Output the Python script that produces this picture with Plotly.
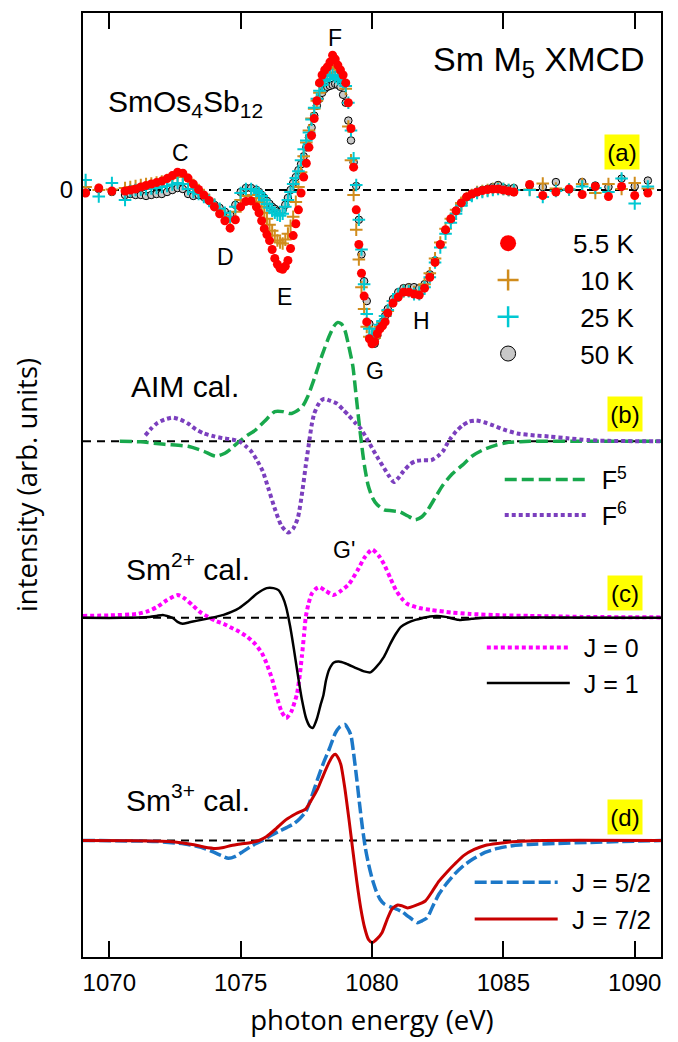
import plotly.graph_objects as go

# ---------------- data ----------------
# (a) experimental Sm M5 XMCD, SmOs4Sb12
E_exp = [1069.1, 1069.6, 1070.1,
         1070.6, 1070.8, 1071.0, 1071.2, 1071.4, 1071.6, 1071.8, 1072.0, 1072.2, 1072.4, 1072.6, 1072.8,
         1073.0, 1073.2, 1073.4, 1073.6, 1073.8, 1074.0, 1074.2, 1074.4, 1074.6, 1074.8, 1075.0, 1075.2, 1075.4,
         1075.6, 1075.7, 1075.8, 1075.9, 1076.0, 1076.1, 1076.2, 1076.3, 1076.4, 1076.5,
         1076.6, 1076.7, 1076.8, 1076.9, 1077.0, 1077.1, 1077.2, 1077.3, 1077.4, 1077.5,
         1077.6, 1077.7, 1077.8, 1077.9, 1078.0, 1078.1, 1078.2, 1078.3, 1078.4, 1078.5,
         1078.6, 1078.7, 1078.8, 1078.9, 1079.0, 1079.1, 1079.2, 1079.3, 1079.4, 1079.5,
         1079.6, 1079.7, 1079.8, 1079.9, 1080.0, 1080.1, 1080.2, 1080.3, 1080.4, 1080.5, 1080.6,
         1080.8, 1081.0, 1081.2, 1081.4, 1081.6, 1081.8, 1082.0, 1082.2, 1082.4, 1082.6, 1082.8, 1083.0,
         1083.2, 1083.4, 1083.6, 1083.8, 1084.0, 1084.2, 1084.4, 1084.6, 1084.8, 1085.0, 1085.2, 1085.4,
         1086.0, 1086.5, 1087.0, 1087.5, 1088.0, 1088.5, 1089.0, 1089.5, 1090.0, 1090.5]

I_5K = [-0.03, 0.02, -0.01,
        -0.01, 0.00, 0.01, 0.03, 0.045, 0.06, 0.075, 0.09, 0.115, 0.145, 0.18, 0.17,
        0.12, 0.06, 0.005, -0.05, -0.105, -0.17, -0.24, -0.31, -0.385, -0.30, -0.17, -0.115, -0.11,
        -0.17, -0.23, -0.31, -0.39, -0.45, -0.51, -0.60, -0.69, -0.75, -0.79,
        -0.80, -0.77, -0.71, -0.59, -0.46, -0.34, -0.20, -0.03, 0.13, 0.27,
        0.43, 0.55, 0.72, 0.90, 1.08, 1.16, 1.21, 1.24, 1.29, 1.36,
        1.32, 1.26, 1.21, 1.16, 1.08, 0.88, 0.62, 0.23, -0.20, -0.55,
        -0.84, -1.07, -1.33, -1.50, -1.55, -1.53, -1.45, -1.40, -1.37, -1.33, -1.24,
        -1.14, -1.08, -1.03, -1.03, -1.05, -1.06, -0.99, -0.88, -0.73, -0.55, -0.40, -0.29,
        -0.21, -0.13, -0.07, -0.04, -0.02, -0.005, 0.005, 0.01, 0.01, 0.0, -0.01, -0.02,
        0.055, -0.055, -0.02, 0.01, -0.045, 0.035, -0.065, 0.035, -0.055, -0.03]

I_10K = [0.03, 0.0, 0.005,
         0.02, 0.03, 0.04, 0.05, 0.06, 0.065, 0.075, 0.085, 0.10, 0.12, 0.14, 0.13,
         0.10, 0.05, 0.0, -0.05, -0.10, -0.15, -0.20, -0.26, -0.31, -0.22, -0.10, -0.06, -0.05,
         -0.08, -0.12, -0.17, -0.23, -0.29, -0.35, -0.41, -0.46, -0.51, -0.53,
         -0.54, -0.50, -0.44, -0.36, -0.27, -0.12, 0.03, 0.18, 0.34, 0.48,
         0.60, 0.72, 0.82, 0.90, 0.98, 1.06, 1.12, 1.18, 1.23, 1.25,
         1.22, 1.19, 1.15, 1.10, 1.02, 0.64, 0.30, -0.05, -0.40, -0.70,
         -0.98, -1.20, -1.38, -1.48, -1.50, -1.49, -1.42, -1.38, -1.33, -1.27, -1.22,
         -1.12, -1.06, -1.02, -1.01, -1.03, -1.02, -0.95, -0.84, -0.69, -0.53, -0.39, -0.29,
         -0.20, -0.13, -0.08, -0.05, -0.02, -0.01, 0.0, 0.01, 0.02, 0.01, 0.0, 0.0,
         0.005, 0.065, 0.015, 0.005, 0.06, -0.03, 0.06, 0.01, 0.07, 0.015]

I_25K = [0.10, -0.065, 0.07,
         -0.10, -0.01, 0.0, 0.005, 0.01, 0.015, 0.02, 0.03, 0.04, 0.055, 0.07, 0.06,
         0.01, -0.02, -0.04, -0.07, -0.11, -0.15, -0.19, -0.23, -0.27, -0.17, -0.03, 0.01, 0.01,
         -0.01, -0.03, -0.06, -0.10, -0.14, -0.18, -0.21, -0.23, -0.25, -0.26,
         -0.24, -0.17, -0.10, -0.02, 0.06, 0.12, 0.19, 0.30, 0.41, 0.50,
         0.58, 0.71, 0.83, 0.92, 1.00, 1.06, 1.10, 1.12, 1.15, 1.16,
         1.14, 1.12, 1.11, 1.09, 1.05, 0.88, 0.60, 0.32, 0.05, -0.30,
         -0.60, -0.95, -1.25, -1.40, -1.47, -1.46, -1.40, -1.36, -1.32, -1.27, -1.21,
         -1.12, -1.05, -1.02, -1.02, -1.05, -1.05, -0.98, -0.88, -0.73, -0.58, -0.44, -0.33,
         -0.24, -0.16, -0.10, -0.06, -0.03, -0.02, -0.01, 0.0, 0.01, 0.01, 0.0, 0.0,
         0.0, -0.07, -0.01, 0.005, 0.035, 0.02, -0.02, 0.115, -0.135, 0.035]

I_50K = [0.0, 0.01, -0.02,
         -0.05, -0.04, -0.05, -0.05, -0.06, -0.05, -0.04, -0.04, -0.02, 0.0, 0.02, 0.01,
         -0.04, -0.06, -0.05, -0.07, -0.11, -0.15, -0.18, -0.22, -0.25, -0.15, -0.02, 0.02, 0.02,
         0.0, -0.02, -0.05, -0.08, -0.11, -0.14, -0.17, -0.19, -0.21, -0.22,
         -0.20, -0.15, -0.08, 0.0, 0.07, 0.13, 0.20, 0.26, 0.34, 0.43,
         0.53, 0.63, 0.75, 0.85, 0.92, 0.98, 1.02, 1.04, 1.05, 1.06,
         1.07, 1.06, 1.04, 0.96, 0.88, 0.70, 0.50, 0.28, 0.04, -0.30,
         -0.65, -0.92, -1.12, -1.35, -1.50, -1.55, -1.47, -1.38, -1.33, -1.27, -1.20,
         -1.10, -1.03, -0.99, -0.98, -0.98, -0.99, -0.95, -0.85, -0.71, -0.55, -0.41, -0.30,
         -0.21, -0.13, -0.07, -0.04, -0.02, 0.0, 0.01, 0.03, 0.05, 0.02, 0.01, 0.02,
         0.045, 0.03, 0.08, 0.005, 0.08, 0.045, 0.03, 0.115, 0.035, 0.095]

# (b) AIM calculation
E_F5 = [1070.4, 1071.2, 1072.1, 1073.0, 1073.6, 1074.05, 1074.4, 1074.65, 1074.95, 1075.25, 1075.55,
        1075.9, 1076.3, 1076.6, 1076.9, 1077.15, 1077.35, 1077.55, 1077.8, 1078.1, 1078.37, 1078.55,
        1078.7, 1078.85, 1078.97, 1079.1, 1079.27, 1079.38, 1079.49, 1079.6, 1079.71, 1079.85, 1080.02,
        1080.2, 1080.46, 1080.75, 1081.05, 1081.35, 1081.65, 1081.9, 1082.1, 1082.4, 1082.7, 1083.05,
        1083.44, 1083.8, 1084.19, 1084.7, 1085.2, 1086.0, 1091.0]
I_F5 = [0.0, -0.005, -0.03, -0.05, -0.10, -0.15, -0.12, -0.07, 0.0, 0.06, 0.11,
        0.20, 0.30, 0.30, 0.28, 0.31, 0.35, 0.45, 0.63, 0.87, 1.06, 1.16,
        1.20, 1.18, 1.12, 0.98, 0.76, 0.50, 0.23, -0.02, -0.24, -0.44, -0.57,
        -0.64, -0.69, -0.70, -0.71, -0.75, -0.79, -0.76, -0.70, -0.57, -0.44, -0.33,
        -0.24, -0.15, -0.09, -0.04, -0.01, 0.0, 0.0]

E_F6 = [1071.37, 1071.6, 1071.8, 1072.1, 1072.4, 1072.7, 1073.0, 1073.3, 1073.6, 1074.0, 1074.35,
        1074.65, 1074.95, 1075.2, 1075.4, 1075.6, 1075.84, 1076.05, 1076.29, 1076.55, 1076.81, 1077.0,
        1077.18, 1077.35, 1077.48, 1077.6, 1077.7, 1077.8, 1077.93, 1078.05, 1078.19, 1078.4, 1078.67,
        1078.9, 1079.12, 1079.35, 1079.57, 1079.8, 1080.01, 1080.25, 1080.46, 1080.65, 1080.83, 1081.0,
        1081.2, 1081.45, 1081.65, 1081.95, 1082.25, 1082.5, 1082.7, 1082.85, 1082.99, 1083.2, 1083.44,
        1083.7, 1083.96, 1084.3, 1084.63, 1085.0, 1085.53, 1086.2, 1086.72, 1087.5, 1088.2, 1089.0, 1091.0]
I_F6 = [0.06, 0.13, 0.18, 0.22, 0.24, 0.22, 0.18, 0.12, 0.08, 0.05, 0.03,
        0.02, 0.0, -0.05, -0.10, -0.18, -0.30, -0.47, -0.67, -0.85, -0.92, -0.88,
        -0.77, -0.50, -0.24, -0.02, 0.16, 0.28, 0.36, 0.41, 0.43, 0.41, 0.38,
        0.32, 0.26, 0.19, 0.13, 0.03, -0.07, -0.18, -0.27, -0.35, -0.41, -0.37,
        -0.30, -0.23, -0.20, -0.19, -0.19, -0.15, -0.10, -0.03, 0.03, 0.10, 0.16,
        0.20, 0.21, 0.19, 0.16, 0.12, 0.08, 0.06, 0.05, 0.03, 0.013, 0.005, 0.0]

# (c) Sm2+ calculation
E_J0 = [1069.0, 1070.0, 1071.07, 1071.5, 1071.82, 1072.2, 1072.61, 1072.9, 1073.16, 1073.45, 1073.76,
        1074.05, 1074.35, 1074.65, 1074.95, 1075.25, 1075.54, 1075.8, 1075.99, 1076.2, 1076.36, 1076.55,
        1076.73, 1076.92, 1077.15, 1077.25, 1077.33, 1077.41, 1077.48, 1077.58, 1077.7, 1077.85, 1078.0,
        1078.25, 1078.53, 1078.8, 1079.12, 1079.45, 1079.72, 1080.01, 1080.25, 1080.46, 1080.7, 1080.91,
        1081.15, 1081.35, 1081.8, 1082.25, 1083.0, 1083.74, 1085.0, 1085.97, 1088.0, 1091.0]
I_J0 = [0.02, 0.025, 0.04, 0.07, 0.11, 0.18, 0.23, 0.19, 0.13, 0.06, 0.01,
        -0.03, -0.06, -0.10, -0.14, -0.19, -0.26, -0.35, -0.46, -0.62, -0.78, -0.94,
        -1.01, -0.95, -0.76, -0.58, -0.39, -0.18, 0.01, 0.14, 0.24, 0.29, 0.31,
        0.27, 0.23, 0.27, 0.34, 0.48, 0.61, 0.69, 0.63, 0.54, 0.40, 0.28,
        0.19, 0.14, 0.10, 0.08, 0.055, 0.04, 0.025, 0.02, 0.01, 0.005]

E_J1 = [1069.0, 1070.5, 1071.52, 1071.8, 1072.04, 1072.25, 1072.41, 1072.6, 1072.79, 1073.05, 1073.31,
        1073.7, 1074.05, 1074.35, 1074.65, 1074.95, 1075.25, 1075.6, 1075.99, 1076.25, 1076.44, 1076.6,
        1076.73, 1076.88, 1077.03, 1077.18, 1077.33, 1077.5, 1077.65, 1077.75, 1077.9, 1078.05, 1078.15,
        1078.25, 1078.37, 1078.55, 1078.74, 1079.0, 1079.42, 1079.7, 1079.94, 1080.15, 1080.46, 1080.7,
        1080.91, 1081.1, 1081.35, 1081.65, 1081.95, 1082.2, 1082.47, 1082.8, 1083.29, 1083.8, 1084.3, 1091.0]
I_J1 = [0.0, 0.0, 0.01, 0.02, 0.03, 0.015, 0.0, -0.04, -0.06, -0.045, -0.03,
        -0.01, 0.01, 0.03, 0.06, 0.10, 0.16, 0.24, 0.30, 0.30, 0.28, 0.21,
        0.11, -0.08, -0.32, -0.58, -0.82, -1.02, -1.10, -1.11, -1.02, -0.87, -0.78,
        -0.63, -0.52, -0.45, -0.44, -0.46, -0.51, -0.54, -0.55, -0.50, -0.39, -0.26,
        -0.16, -0.09, -0.05, -0.02, 0.0, 0.015, 0.02, 0.01, -0.02, -0.01, 0.0, 0.0]

# (d) Sm3+ calculation
E_J52 = [1069.0, 1071.0, 1071.8, 1072.5, 1073.0, 1073.5, 1073.9, 1074.25, 1074.53, 1074.8, 1075.1,
         1075.45, 1075.84, 1076.15, 1076.44, 1076.75, 1077.03, 1077.25, 1077.48, 1077.7, 1077.93, 1078.15,
         1078.37, 1078.6, 1078.75, 1078.97, 1079.1, 1079.2, 1079.3, 1079.42, 1079.53, 1079.64, 1079.75,
         1079.87, 1080.0, 1080.16, 1080.3, 1080.46, 1080.7, 1080.91, 1081.15, 1081.35, 1081.55, 1081.73,
         1081.9, 1082.1, 1082.3, 1082.55, 1082.85, 1083.14, 1083.5, 1083.89, 1084.3, 1084.78, 1085.4,
         1085.97, 1087.0, 1088.2, 1089.5, 1091.0]
I_J52 = [0.0, -0.005, -0.01, -0.025, -0.04, -0.07, -0.11, -0.15, -0.18, -0.16, -0.11,
         -0.05, 0.0, 0.05, 0.09, 0.13, 0.17, 0.22, 0.29, 0.44, 0.62, 0.78,
         0.92, 1.08, 1.14, 1.17, 1.12, 1.06, 0.88, 0.62, 0.36, 0.12, -0.08,
         -0.24, -0.38, -0.51, -0.59, -0.64, -0.67, -0.69, -0.72, -0.76, -0.80, -0.83,
         -0.81, -0.78, -0.67, -0.54, -0.43, -0.34, -0.25, -0.18, -0.12, -0.08, -0.05,
         -0.04, -0.03, -0.02, -0.01, 0.0]

E_J72 = [1069.0, 1071.0, 1072.27, 1072.8, 1073.16, 1073.6, 1074.05, 1074.35, 1074.65, 1075.0, 1075.4,
         1075.7, 1075.99, 1076.35, 1076.73, 1077.1, 1077.48, 1077.7, 1077.93, 1078.15, 1078.37, 1078.5,
         1078.6, 1078.72, 1078.82, 1078.97, 1079.12, 1079.27, 1079.42, 1079.57, 1079.72, 1079.87, 1080.01,
         1080.2, 1080.38, 1080.57, 1080.76, 1080.98, 1081.15, 1081.35, 1081.7, 1082.03, 1082.3, 1082.55,
         1082.85, 1083.14, 1083.5, 1083.89, 1084.3, 1084.78, 1085.5, 1086.5, 1091.0]
I_J72 = [0.0, -0.003, -0.01, -0.025, -0.04, -0.065, -0.08, -0.07, -0.05, -0.035, -0.02,
         0.0, 0.04, 0.12, 0.21, 0.27, 0.32, 0.41, 0.52, 0.66, 0.79, 0.85,
         0.87, 0.83, 0.76, 0.52, 0.22, -0.10, -0.41, -0.68, -0.88, -1.00, -1.03,
         -0.99, -0.93, -0.80, -0.69, -0.65, -0.66, -0.68, -0.65, -0.61, -0.51, -0.41,
         -0.32, -0.24, -0.15, -0.09, -0.05, -0.03, -0.01, 0.0, 0.0]

for a, b in [(E_exp, I_5K), (E_exp, I_10K), (E_exp, I_25K), (E_exp, I_50K), (E_F5, I_F5),
             (E_F6, I_F6), (E_J0, I_J0), (E_J1, I_J1), (E_J52, I_J52), (E_J72, I_J72)]:
    assert len(a) == len(b), (len(a), len(b))

x_ticks = [1070, 1075, 1080, 1085, 1090]

# vertical stacking of the four panels (arb. units)
offset = {"a": 0.0, "b": -2.535, "c": -4.315, "d": -6.56}

FONT = "Liberation Sans, Arial, sans-serif"
GAP = "\u00a0\u200a"


def shifted(vals, key):
    return [v + offset[key] for v in vals]


fig = go.Figure()

# ---- (a) experimental points ----
fig.add_trace(go.Scatter(x=E_exp, y=I_50K, mode="markers", showlegend=False,
                         marker=dict(symbol="circle", size=7.5, color="#c8c8c8",
                                     line=dict(color="black", width=1))))
fig.add_trace(go.Scatter(x=E_exp, y=I_10K, mode="markers", showlegend=False,
                         marker=dict(symbol="cross-thin", size=9,
                                     line=dict(color="#d08c1c", width=2))))
fig.add_trace(go.Scatter(x=E_exp, y=I_25K, mode="markers", showlegend=False,
                         marker=dict(symbol="cross-thin", size=9,
                                     line=dict(color="#00c8d2", width=2))))
fig.add_trace(go.Scatter(x=E_exp, y=I_5K, mode="markers", showlegend=False,
                         marker=dict(symbol="circle", size=9, color="#ff0000")))

# legend-only entries for (a)
fig.add_trace(go.Scatter(x=[None], y=[None], mode="markers", name="5.5 K", legend="legend",
                         marker=dict(symbol="circle", size=16, color="#ff0000")))
fig.add_trace(go.Scatter(x=[None], y=[None], mode="markers", name="\u200810 K", legend="legend",
                         marker=dict(symbol="cross-thin", size=15, line=dict(color="#d08c1c", width=2.5))))
fig.add_trace(go.Scatter(x=[None], y=[None], mode="markers", name="\u200825 K", legend="legend",
                         marker=dict(symbol="cross-thin", size=15, line=dict(color="#00c8d2", width=2.5))))
fig.add_trace(go.Scatter(x=[None], y=[None], mode="markers", name="\u200850 K", legend="legend",
                         marker=dict(symbol="circle", size=15, color="#c8c8c8",
                                     line=dict(color="black", width=1))))

# ---- (b) AIM ----
fig.add_trace(go.Scatter(x=E_F5, y=shifted(I_F5, "b"), mode="lines", name=GAP + "F<sup>5</sup>",
                         legend="legend2",
                         line=dict(color="#18a84c", width=3.5, dash="12px,5px", shape="spline", smoothing=0.6)))
fig.add_trace(go.Scatter(x=E_F6, y=shifted(I_F6, "b"), mode="lines", name=GAP + "F<sup>6</sup>",
                         legend="legend2",
                         line=dict(color="#7b3fbe", width=4, dash="4px,3px", shape="spline", smoothing=0.6)))

# ---- (c) Sm2+ ----
fig.add_trace(go.Scatter(x=E_J0, y=shifted(I_J0, "c"), mode="lines", name=GAP + "J = 0",
                         legend="legend3",
                         line=dict(color="#ff00ff", width=4, dash="4px,3px", shape="spline", smoothing=0.6)))
fig.add_trace(go.Scatter(x=E_J1, y=shifted(I_J1, "c"), mode="lines", name=GAP + "J = 1",
                         legend="legend3",
                         line=dict(color="#000000", width=2.5, shape="spline", smoothing=0.6)))

# ---- (d) Sm3+ ----
fig.add_trace(go.Scatter(x=E_J52, y=shifted(I_J52, "d"), mode="lines", name=GAP + "J = 5/2",
                         legend="legend4",
                         line=dict(color="#1c78c8", width=3.5, dash="12px,4px", shape="spline", smoothing=0.6)))
fig.add_trace(go.Scatter(x=E_J72, y=shifted(I_J72, "d"), mode="lines", name=GAP + "J = 7/2",
                         legend="legend4",
                         line=dict(color="#c80000", width=3, shape="spline", smoothing=0.6)))

# zero baselines
shapes = []
for k in ["a", "b", "c", "d"]:
    shapes.append(dict(type="line", xref="paper", x0=0, x1=1, yref="y", y0=offset[k], y1=offset[k],
                       line=dict(color="black", width=2, dash="8px,6px"), layer="below"))

annotations = []


def txt(x, y, text, size, xanchor="center", yanchor="middle", box=False):
    d = dict(x=x, y=y, xref="x", yref="y", text=text, showarrow=False, xanchor=xanchor,
             yanchor=yanchor, font=dict(family=FONT, size=size, color="black"))
    if box:
        d.update(bgcolor="#ffff00", borderpad=0, width=34, height=34)
    annotations.append(d)


txt(1090.46, 1.30, "Sm M<sub>5</sub> XMCD", 34, xanchor="right")
txt(1069.886, 0.87, "SmOs<sub>4</sub>Sb<sub>12</sub>", 30, xanchor="left")
txt(1072.70, 0.375, "C", 23)
txt(1074.42, -0.675, "D", 23)
txt(1076.67, -1.075, "E", 23)
txt(1078.61, 1.535, "F", 23)
txt(1080.10, -1.825, "G", 23)
txt(1081.89, -1.325, "H", 23)
txt(1078.95, -3.635, "G'", 23)
txt(1070.76, -1.98, "AIM cal.", 30, xanchor="left")
txt(1070.57, -3.80, "Sm<sup>2+</sup> cal.", 30, xanchor="left")
txt(1070.57, -6.13, "Sm<sup>3+</sup> cal.", 30, xanchor="left")
txt(1089.50, 0.38, "(a)", 24, box=True)
txt(1089.62, -2.255, "(b)", 24, box=True)
txt(1089.62, -4.065, "(c)", 24, box=True)
txt(1089.62, -6.325, "(d)", 24, box=True)

leg_common = dict(xanchor="left", yanchor="top", bgcolor="rgba(0,0,0,0)", borderwidth=0,
                  traceorder="normal")

fig.update_layout(
    width=678, height=1042,
    margin=dict(l=83, r=17, t=11, b=79),
    paper_bgcolor="white", plot_bgcolor="white",
    font=dict(family=FONT, color="black"),
    shapes=shapes, annotations=annotations,
    legend=dict(x=0.623, y=0.781, itemwidth=120, font=dict(family=FONT, size=26), **leg_common),
    legend2=dict(x=0.721, y=0.530, itemwidth=83, font=dict(family=FONT, size=25), **leg_common),
    legend3=dict(x=0.690, y=0.352, itemwidth=83, font=dict(family=FONT, size=25), **leg_common),
    legend4=dict(x=0.669, y=0.104, itemwidth=83, font=dict(family=FONT, size=26), **leg_common),
    xaxis=dict(range=[1069, 1091], tickvals=x_ticks, ticks="inside", ticklen=16, tickwidth=2,
               tickcolor="black", showline=True, linewidth=2, linecolor="black", mirror="ticks",
               showgrid=False, zeroline=False, tickfont=dict(family=FONT, size=24),
               ticklabelstandoff=3,
               title=dict(text="photon energy (eV)", font=dict(family="Open Sans", size=27.5),
                          standoff=16)),
    yaxis=dict(range=[-7.735, 1.785], tickvals=[0], ticktext=["0"], ticks="",
               showline=True, linewidth=2, linecolor="black", mirror=True,
               showgrid=False, zeroline=False, tickfont=dict(family=FONT, size=24),
               ticklabelstandoff=3,
               title=dict(text="intensity (arb. units)", font=dict(family="Open Sans", size=27.5),
                          standoff=14)),
)

fig.write_html("out.html", config={"displayModeBar": False},
               post_script="document.body.style.margin='0';document.body.style.padding='0';")
